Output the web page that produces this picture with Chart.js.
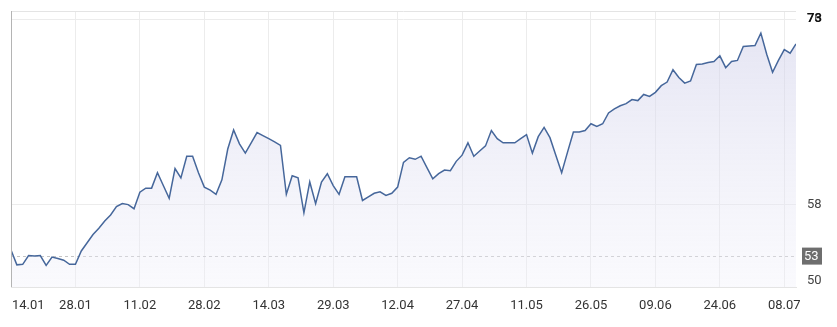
<!DOCTYPE html>
<html>
<head>
<meta charset="utf-8">
<script src="https://cdn.jsdelivr.net/npm/chart.js@4/dist/chart.umd.min.js"></script>
<style>
  html, body { margin: 0; padding: 0; background: #fff; }
  canvas { display: block; }
</style>
</head>
<body>
<canvas id="chart" width="837" height="327"></canvas>
<script>
// tick labels on the x axis, one every 11 points
const dates = ['14.01', '28.01', '11.02', '28.02', '14.03', '29.03', '12.04', '27.04', '11.05', '26.05', '09.06', '24.06', '08.07'];
const pointsPerLabel = 11;

// closing prices
const prices = [
  53.6, 52.15, 52.2, 53.05, 53.0, 53.05, 52.1, 52.9, 52.76, 52.6, 52.2,
  52.2, 53.5, 54.3, 55.1, 55.7, 56.4, 57.0, 57.8, 58.1, 58.0, 57.6,
  59.2, 59.6, 59.6, 61.1, 59.85, 58.6, 61.5, 60.6, 62.7, 62.7, 61.1,
  59.7, 59.4, 59.0, 60.4, 63.4, 65.25, 63.9, 63.0, 64.0, 65.0, 64.7,
  64.4, 64.1, 63.75, 59.0, 60.8, 60.6, 57.2, 60.2, 58.1, 60.2, 61.0,
  59.85, 59.0, 60.7, 60.7, 60.7, 58.4, 58.75, 59.1, 59.25, 58.9, 59.1,
  59.7, 62.1, 62.55, 62.4, 62.7, 61.6, 60.5, 61.0, 61.35, 61.3, 62.2,
  62.8, 64.0, 62.7, 63.2, 63.7, 65.2, 64.4, 64.0, 64.0, 64.0, 64.4,
  64.8, 63.0, 64.6, 65.5, 64.5, 62.8, 61.1, 63.1, 65.05, 65.05, 65.2,
  65.85, 65.6, 65.85, 66.9, 67.3, 67.6, 67.8, 68.2, 68.1, 68.7, 68.5,
  68.9, 69.55, 69.9, 71.1, 70.35, 69.8, 70.0, 71.6, 71.65, 71.8, 71.9,
  72.45, 71.3, 71.9, 72.0, 73.35, 73.4, 73.45, 74.65, 72.6, 70.85, 72.0,
  73.05, 72.7, 73.6
];

const yTicks = [50, 58, 76];
const refLevel = 53;
const lastLabel = '73';

const FONT = 'Roboto, "Noto Sans", sans-serif';

// borders, reference line and custom labels
const decorations = {
  id: 'decorations',
  beforeDatasetsDraw(chart) {
    const { ctx, chartArea: a, scales: { y } } = chart;
    ctx.save();
    ctx.lineWidth = 1;
    ctx.strokeStyle = '#e4e4e4';
    ctx.beginPath();
    ctx.moveTo(a.left, a.top + 0.5);
    ctx.lineTo(a.right, a.top + 0.5);
    ctx.stroke();

    const ry = Math.round(y.getPixelForValue(refLevel)) + 0.5;
    ctx.strokeStyle = '#c4c4c4';
    ctx.setLineDash([3, 3]);
    ctx.beginPath();
    ctx.moveTo(a.left, ry);
    ctx.lineTo(a.right, ry);
    ctx.stroke();
    ctx.restore();
  },
  afterDraw(chart) {
    const { ctx, chartArea: a, scales: { x, y } } = chart;
    ctx.save();
    // left border
    ctx.strokeStyle = '#b4b4b4';
    ctx.lineWidth = 1;
    ctx.beginPath();
    ctx.moveTo(a.left + 0.5, a.top);
    ctx.lineTo(a.left + 0.5, a.bottom);
    ctx.stroke();

    // x labels, first one kept inside the plot
    ctx.font = '13px ' + FONT;
    ctx.fillStyle = '#333';
    ctx.textAlign = 'center';
    ctx.textBaseline = 'middle';
    dates.forEach((d, k) => {
      const w = ctx.measureText(d).width;
      const px = Math.max(x.getPixelForValue(k * pointsPerLabel), a.left + w / 2 + 1);
      ctx.fillText(d, px, a.bottom + 19);
    });

    // y labels, bottom one lifted so it stays above the axis line
    ctx.textAlign = 'left';
    ctx.fillStyle = '#444';
    yTicks.slice(0, -1).forEach((v) => {
      const py = Math.min(y.getPixelForValue(v), a.bottom - 6);
      ctx.fillText(String(v), a.right + 11, py);
    });
    ctx.fillText(String(yTicks[yTicks.length - 1]), a.right + 11, y.getPixelForValue(yTicks[yTicks.length - 1]));

    // reference level box
    const ry = y.getPixelForValue(refLevel);
    ctx.fillStyle = '#6e6e6e';
    ctx.fillRect(a.right + 6, ry - 8.5, 20, 17);
    ctx.fillStyle = '#fff';
    ctx.fillText(String(refLevel), a.right + 8, ry + 0.5);

    // last value label
    ctx.font = 'bold 13px ' + FONT;
    ctx.fillStyle = '#111';
    ctx.fillText(lastLabel, a.right + 11, y.getPixelForValue(yTicks[yTicks.length - 1]));
    ctx.restore();
  }
};

const ctx = document.getElementById('chart').getContext('2d');
new Chart(ctx, {
  type: 'line',
  data: {
    datasets: [{
      data: prices.map((v, i) => ({ x: i, y: v })),
      borderColor: '#46679b',
      borderWidth: 1.5,
      pointRadius: 0,
      tension: 0,
      fill: 'start',
      backgroundColor: (context) => {
        const { ctx, chartArea } = context.chart;
        if (!chartArea) return 'rgba(220, 220, 240, 0.4)';
        const g = ctx.createLinearGradient(0, chartArea.top, 0, chartArea.bottom);
        g.addColorStop(0, 'rgba(205, 205, 232, 0.55)');
        g.addColorStop(1, 'rgba(240, 240, 250, 0.35)');
        return g;
      }
    }]
  },
  options: {
    responsive: false,
    animation: false,
    layout: { padding: { left: 11, top: 11 } },
    plugins: { legend: { display: false }, tooltip: { enabled: false } },
    scales: {
      x: {
        type: 'linear',
        min: 0,
        max: prices.length - 1,
        afterBuildTicks: (s) => { s.ticks = dates.map((d, k) => ({ value: k * pointsPerLabel })); },
        afterFit: (s) => { s.height = 40; },
        grid: { color: '#ececec', drawTicks: false },
        border: { color: '#e4e4e4' },
        ticks: { display: false }
      },
      y: {
        position: 'right',
        min: 50,
        max: 76.8,
        afterBuildTicks: (s) => { s.ticks = yTicks.map((v) => ({ value: v })); },
        afterFit: (s) => { s.width = 41; },
        grid: { color: '#ececec', drawTicks: false },
        border: { display: false },
        ticks: { display: false }
      }
    }
  },
  plugins: [decorations]
});
</script>
</body>
</html>
